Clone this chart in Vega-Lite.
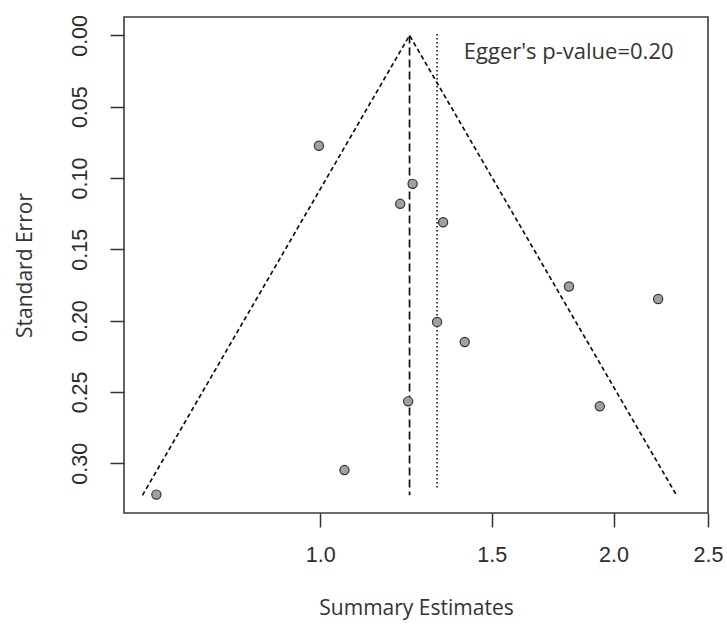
{
  "$schema": "https://vega.github.io/schema/vega-lite/v6.json",
  "width": 584,
  "height": 496,
  "autosize": {"type": "none"},
  "padding": {"left": 124, "top": 17, "right": 19, "bottom": 115},
  "background": "white",
  "config": {
    "view": {"stroke": "#3c3c3c", "strokeWidth": 1.6},
    "axis": {
      "grid": false,
      "domain": false,
      "tickColor": "#333333",
      "tickSize": 14,
      "tickWidth": 1.5,
      "labelFont": "Liberation Sans",
      "labelFontSize": 21.5,
      "labelColor": "#2b2b2b",
      "titleFont": "Open Sans",
      "titleFontSize": 21,
      "titleFontWeight": "normal",
      "titleColor": "#333333"
    }
  },
  "datasets": {
    "studies": [
      {"est": 0.997, "se": 0.0774},
      {"est": 1.244, "se": 0.1041},
      {"est": 1.208, "se": 0.1181},
      {"est": 1.337, "se": 0.131},
      {"est": 1.800, "se": 0.1761},
      {"est": 2.222, "se": 0.1848},
      {"est": 1.318, "se": 0.2009},
      {"est": 1.407, "se": 0.215},
      {"est": 1.231, "se": 0.2566},
      {"est": 1.936, "se": 0.2601},
      {"est": 1.059, "se": 0.3048},
      {"est": 0.679, "se": 0.322}
    ],
    "funnel": [
      {"est": 0.657, "se": 0.3225, "order": 1},
      {"est": 1.235, "se": 0.0, "order": 2},
      {"est": 2.321, "se": 0.3225, "order": 3}
    ],
    "pooled": [
      {"est": 1.235, "se": 0.0, "se2": 0.3225}
    ],
    "adjusted": [
      {"est": 1.318, "se": -0.001, "se2": 0.318}
    ],
    "note": [
      {"est": 1.404, "se": 0.0164, "label": "Egger's p-value=0.20"}
    ]
  },
  "encoding": {
    "x": {
      "field": "est",
      "type": "quantitative",
      "scale": {"type": "log", "domain": [0.629, 2.5], "nice": false, "zero": false},
      "axis": {
        "values": [1, 1.5, 2, 2.5],
        "format": ".1f",
        "labelPadding": 17,
        "labelFlush": false,
        "labelOverlap": false,
        "title": "Summary Estimates",
        "titleX": 292,
        "titleY": 95,
        "titleAlign": "center",
        "titleBaseline": "middle"
      }
    },
    "y": {
      "field": "se",
      "type": "quantitative",
      "scale": {"domain": [-0.0129, 0.3349], "reverse": true, "nice": false, "zero": false},
      "axis": {
        "values": [0, 0.05, 0.1, 0.15, 0.2, 0.25, 0.3],
        "format": ".2f",
        "labelAngle": 270,
        "labelAlign": "center",
        "labelBaseline": "alphabetic",
        "labelPadding": 24,
        "labelFlush": false,
        "labelOverlap": false,
        "title": "Standard Error",
        "titleAngle": 270,
        "titleX": -99,
        "titleY": 248,
        "titleAlign": "center",
        "titleBaseline": "middle"
      }
    }
  },
  "layer": [
    {
      "data": {"name": "funnel"},
      "mark": {"type": "line", "stroke": "#111111", "strokeWidth": 1.7, "strokeDash": [4.5, 3]},
      "encoding": {"order": {"field": "order", "type": "quantitative"}}
    },
    {
      "data": {"name": "pooled"},
      "mark": {"type": "rule", "stroke": "#111111", "strokeWidth": 1.7, "strokeDash": [8, 4]},
      "encoding": {"y2": {"field": "se2"}}
    },
    {
      "data": {"name": "adjusted"},
      "mark": {"type": "rule", "stroke": "#111111", "strokeWidth": 1.6, "strokeDash": [1.5, 2.5]},
      "encoding": {"y2": {"field": "se2"}}
    },
    {
      "data": {"name": "studies"},
      "mark": {"type": "point", "shape": "circle", "filled": true, "size": 85, "fill": "#a0a0a0", "stroke": "#333333", "strokeWidth": 1.2, "opacity": 1}
    },
    {
      "data": {"name": "note"},
      "mark": {"type": "text", "align": "left", "baseline": "alphabetic", "font": "Open Sans", "fontSize": 22, "color": "#333333"},
      "encoding": {"text": {"field": "label"}}
    }
  ]
}
